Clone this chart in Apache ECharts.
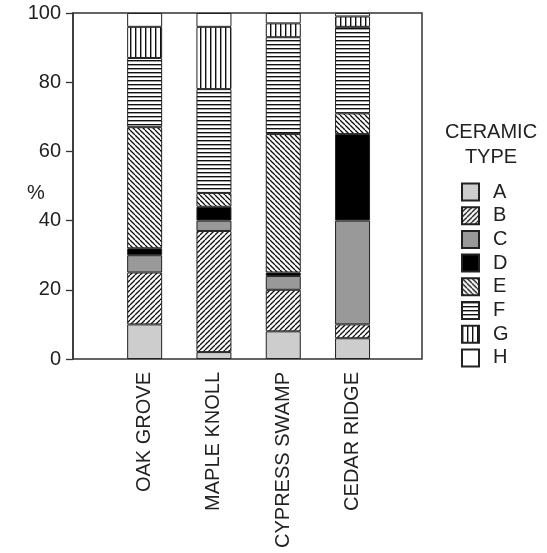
<!DOCTYPE html>
<html><head><meta charset="utf-8">
<script src="https://cdn.jsdelivr.net/npm/echarts@6/dist/echarts.min.js"></script>
<style>html,body{margin:0;padding:0;background:#fff}#c{width:547px;height:553px}</style>
</head><body><div id="c"></div>
<script>
const sites = ['OAK GROVE', 'MAPLE KNOLL', 'CYPRESS SWAMP', 'CEDAR RIDGE'];
const typeNames = ['A', 'B', 'C', 'D', 'E', 'F', 'G', 'H'];
const typeA = [10, 2, 8, 6];
const typeB = [15, 35, 12, 4];
const typeC = [5, 3, 4, 30];
const typeD = [2, 4, 1, 25];
const typeE = [35, 4, 40, 6];
const typeF = [20, 30, 28, 25];
const typeG = [9, 18, 4, 3];
const typeH = [4, 4, 3, 1];
const yTicks = [0, 20, 40, 60, 80, 100];

function tile(w, h, draw) {
  const c = document.createElement('canvas');
  c.width = w; c.height = h;
  const g = c.getContext('2d');
  g.fillStyle = '#fff'; g.fillRect(0, 0, w, h);
  g.strokeStyle = '#111'; g.fillStyle = '#111';
  draw(g, w, h);
  return { image: c, repeat: 'repeat' };
}
const pSlash = tile(5, 5, (g, w, h) => {
  g.lineWidth = 1.3;
  for (const o of [-w, 0, w]) { g.beginPath(); g.moveTo(o, h); g.lineTo(o + w, 0); g.stroke(); }
});
const pBack = tile(5, 5, (g, w, h) => {
  g.lineWidth = 1.3;
  for (const o of [-w, 0, w]) { g.beginPath(); g.moveTo(o, 0); g.lineTo(o + w, h); g.stroke(); }
});
const pHoriz = tile(4, 4, (g, w, h) => { g.fillRect(0, 0, w, 1.4); });
const pVert = tile(5, 5, (g, w, h) => { g.fillRect(0, 0, 1.4, h); });

const fills = ['#cdcdcd', pSlash, '#999999', '#000000', pBack, pHoriz, pVert, '#ffffff'];
const values = [typeA, typeB, typeC, typeD, typeE, typeF, typeG, typeH];

const series = typeNames.map((n, i) => ({
  name: n, type: 'bar', stack: 'all', xAxisIndex: 1, yAxisIndex: 1,
  barWidth: 35, data: values[i],
  itemStyle: { color: fills[i], borderColor: '#222', borderWidth: 1 },
  emphasis: { disabled: true }
}));

const FS = 20;
const chart = echarts.init(document.getElementById('c'), null, { renderer: 'canvas' });
chart.setOption({
  animation: false,
  backgroundColor: '#fff',
  textStyle: { fontFamily: 'Liberation Sans, Arial, sans-serif' },
  grid: [
    { left: 73, top: 13, width: 349, bottom: 194, show: true, borderColor: '#333', borderWidth: 1.5, backgroundColor: 'transparent' },
    { left: 110, top: 13, width: 277.2, bottom: 194 }
  ],
  xAxis: [
    { gridIndex: 0, type: 'value', show: false, min: 0, max: 1 },
    { gridIndex: 1, type: 'category', data: sites,
      axisLine: { show: false }, axisTick: { show: false },
      axisLabel: { rotate: 90, fontSize: FS, color: '#222', margin: 13, fontFamily: 'Liberation Sans' } }
  ],
  yAxis: [
    { gridIndex: 0, type: 'value', min: yTicks[0], max: yTicks[yTicks.length - 1], interval: 20,
      axisLine: { show: true, lineStyle: { color: '#333', width: 1.5 } },
      axisTick: { show: true, inside: false, length: 7, lineStyle: { color: '#333', width: 1.3 } },
      splitLine: { show: false },
      axisLabel: { fontSize: FS, color: '#222', margin: 12, fontFamily: 'Liberation Sans' } },
    { gridIndex: 1, type: 'value', min: 0, max: 100, show: false }
  ],
  legend: {
    orient: 'vertical', left: 456, top: 177, icon: 'rect',
    itemWidth: 17, itemHeight: 17, itemGap: 3.7,
    data: typeNames,
    textStyle: { fontSize: FS, color: '#222', lineHeight: 18, padding: [0, 0, 0, 9], fontFamily: 'Liberation Sans' },
    selectedMode: false
  },
  graphic: [
    { type: 'text', left: 27, top: 183, style: { text: '%', fontSize: FS, fill: '#222', fontFamily: 'Liberation Sans' } },
    { type: 'text', x: 491, y: 132, style: { text: 'CERAMIC', fontSize: FS, fill: '#222', align: 'center', verticalAlign: 'middle', fontFamily: 'Liberation Sans' } },
    { type: 'text', x: 491, y: 157, style: { text: 'TYPE', fontSize: FS, fill: '#222', align: 'center', verticalAlign: 'middle', fontFamily: 'Liberation Sans' } }
  ],
  series: series
});
</script></body></html>
